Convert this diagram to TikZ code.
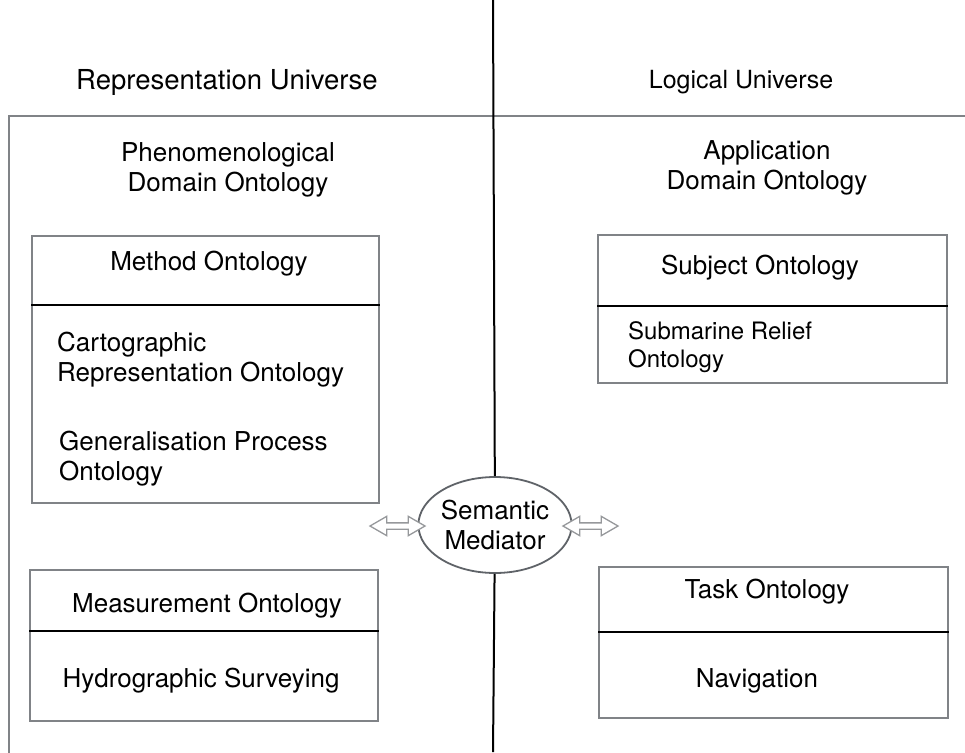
\documentclass[tikz,border=0pt]{standalone}
\usepackage{fontspec}
\setmainfont{TeX Gyre Heros}
\usetikzlibrary{shapes}
\usetikzlibrary{shapes.arrows}
\definecolor{boxgray}{RGB}{128,131,135}
\definecolor{arrowgray}{RGB}{150,152,155}
\definecolor{ringgray}{RGB}{95,99,104}
\tikzstyle{txt}=[font=\fontsize{26}{30}\selectfont, align=center, inner sep=0pt]
\tikzstyle{smalltxt}=[font=\fontsize{24}{28}\selectfont, align=left, inner sep=0pt]
\tikzstyle{ontbox}=[draw=boxgray, line width=2pt, inner sep=0pt]
\tikzstyle{divider}=[draw=black, line width=1.4pt]
\tikzstyle{mediator}=[ellipse, draw=ringgray, line width=1.8pt, fill=white, inner sep=0pt, minimum width=140pt, minimum height=96pt]
\tikzstyle{link}=[double arrow, draw=arrowgray, line width=1.3pt, fill=white, inner xsep=0pt, inner ysep=2.5pt, minimum height=55pt, minimum width=19pt, double arrow head extend=6.5pt, double arrow tip angle=60]

\begin{document}
\begin{tikzpicture}[x=1pt, y=-1pt]
  \useasboundingbox (0,0) rectangle (965,752);

  % universes
  \coordinate (top) at (493,0);
  \coordinate (bottom) at (493,752);
  \draw[draw=boxgray, line width=2.5pt] (9,753) -- (9,116) -- (966,116);
  \node[txt, font=\fontsize{27.5}{30}\selectfont] at (227,82) (repuni) {Representation Universe};
  \node[txt, font=\fontsize{25}{30}\selectfont] at (741,82) (logiuni) {Logical Universe};
  \node[txt] at (228,170) (phenom) {Phenomenological\\Domain Ontology};
  \node[txt] at (767,168) (appdom) {Application\\Domain Ontology};

  % boxes
  \node[ontbox, minimum width=347pt, minimum height=267pt] at (205.5,369.5) (method) {};
  \node[ontbox, minimum width=348pt, minimum height=151pt] at (204,645.5) (measure) {};
  \node[ontbox, minimum width=349pt, minimum height=148pt] at (772.5,309) (subject) {};
  \node[ontbox, minimum width=349pt, minimum height=151pt] at (773.5,642.5) (task) {};
  \draw[divider] (method.west |- 0,305) -- (method.east |- 0,305);
  \draw[divider] (measure.west |- 0,631) -- (measure.east |- 0,631);
  \draw[divider] (subject.west |- 0,306) -- (subject.east |- 0,306);
  \draw[divider] (task.west |- 0,632) -- (task.east |- 0,632);

  \node[txt] at (209,264) (methodtitle) {Method Ontology};
  \node[txt, align=left, anchor=west] at (57,360) (carto) {Cartographic\\Representation Ontology};
  \node[txt, align=left, anchor=west] at (59,459) (general) {Generalisation Process\\Ontology};
  \node[txt] at (207,606) (measuretitle) {Measurement Ontology};
  \node[txt] at (201,681) (hydro) {Hydrographic Surveying};
  \node[txt] at (760,268) (subjecttitle) {Subject Ontology};
  \node[smalltxt, anchor=west] at (628,347) (relief) {Submarine Relief\\Ontology};
  \node[txt] at (767,592) (tasktitle) {Task Ontology};
  \node[txt] at (757,681) (navi) {Navigation};

  % mediator
  \node[mediator, txt, inner sep=0pt] at (495,525) (sem) {Semantic\\Mediator};
  \draw[line width=2pt] (top) -- (sem);
  \draw[line width=2pt] (sem) -- (bottom);
  \node[link] at (397.5,526) (linkL) {};
  \node[link] at (590.5,526) (linkR) {};
\end{tikzpicture}
\end{document}
